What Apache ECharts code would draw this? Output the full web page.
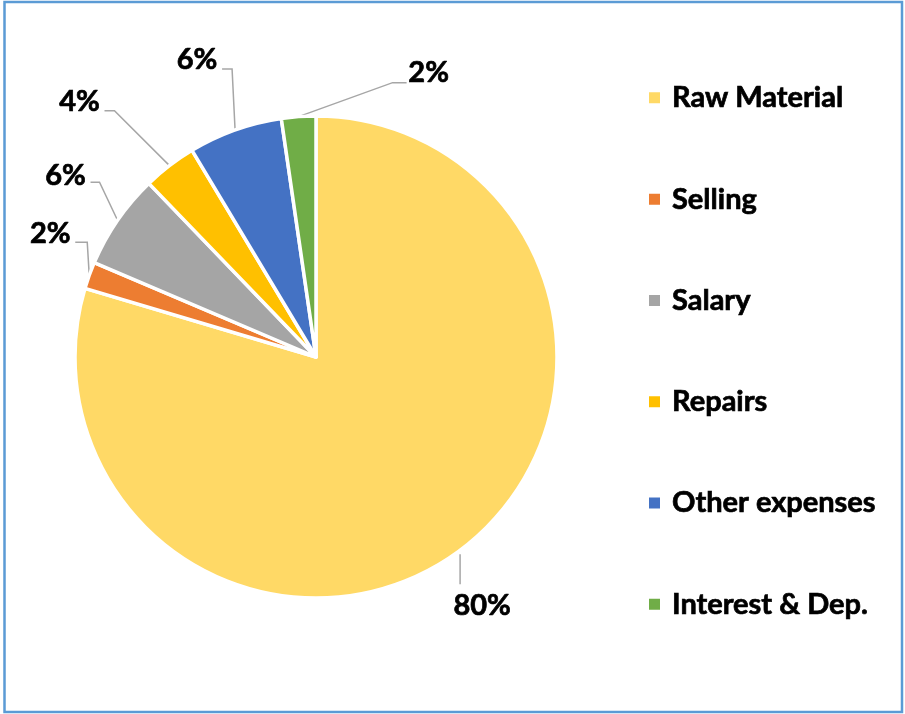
<!DOCTYPE html>
<html>
<head>
<meta charset="utf-8">
<script src="https://cdn.jsdelivr.net/npm/echarts@6/dist/echarts.min.js"></script>
<style>
html,body{margin:0;padding:0;background:#fff;}
#chart{width:905px;height:714px;}
</style>
</head>
<body>
<div id="chart"></div>
<script>
// Data
var categories = ['Raw Material', 'Selling', 'Salary', 'Repairs', 'Other expenses', 'Interest & Dep.'];
var values = [79.6, 1.8, 6.4, 3.6, 6.3, 2.3];

// Styles
var colors = ['#FFD966', '#ED7D31', '#A5A5A5', '#FFC000', '#4472C4', '#70AD47'];
// leader line offsets relative to slice edge point: [bend, end, labelCenter]
var leaderBend = [[0, 34], [-2, -33], [-18, -38], [-55, -55], [-3, -61], [94, -34]];
var leaderEnd  = [[0, 34], [-14, -33], [-27, -38], [-65, -55], [-13, -61], [108, -34]];
var labelOff   = [[22, 55], [-39, -42], [-52, -45], [-90, -64], [-38, -70], [130, -44]];

var chart = echarts.init(document.getElementById('chart'), null, {renderer: 'canvas'});

var data = categories.map(function (c, i) {
  return {name: c, value: values[i], itemStyle: {color: colors[i]}};
});

var option = {
  animation: false,
  backgroundColor: '#ffffff',
  graphic: [{
    type: 'rect',
    shape: {x: 4.5, y: 2, width: 897.5, height: 710},
    style: {fill: 'none', stroke: '#5B9BD5', lineWidth: 2.5},
    silent: true
  }],
  legend: {
    orient: 'vertical',
    left: 642,
    top: 78,
    itemWidth: 13,
    itemHeight: 13,
    itemGap: 71.6,
    icon: 'rect',
    data: categories,
    textStyle: {
      fontFamily: 'Lato',
      fontWeight: 'bold',
      fontSize: 29,
      color: '#000',
      textBorderColor: '#000',
      textBorderWidth: 0.7,
      lineHeight: 28,
      padding: [0, 0, 0, 6]
    }
  },
  series: [{
    type: 'pie',
    center: [316, 357],
    radius: 241,
    startAngle: 90,
    clockwise: true,
    avoidLabelOverlap: false,
    itemStyle: {borderColor: '#ffffff', borderWidth: 3.5},
    label: {
      show: true,
      position: 'outside',
      formatter: function (p) { return Math.round(p.percent) + '%'; },
      fontFamily: 'Lato',
      fontWeight: 'bold',
      fontSize: 29,
      color: '#000',
      textBorderColor: '#000',
      textBorderWidth: 0.7
    },
    labelLine: {
      show: true,
      length: 20,
      length2: 10,
      lineStyle: {color: '#A6A6A6', width: 1.5}
    },
    labelLayout: function (params) {
      var i = params.dataIndex;
      var p0 = params.labelLinePoints[0];
      return {
        x: p0[0] + labelOff[i][0],
        y: p0[1] + labelOff[i][1],
        align: 'center',
        verticalAlign: 'middle',
        labelLinePoints: [
          [p0[0], p0[1] + (i === 0 ? 4 : 0)],
          [p0[0] + leaderBend[i][0], p0[1] + leaderBend[i][1]],
          [p0[0] + leaderEnd[i][0], p0[1] + leaderEnd[i][1]]
        ]
      };
    },
    data: data
  }]
};
chart.setOption(option);
</script>
</body>
</html>
